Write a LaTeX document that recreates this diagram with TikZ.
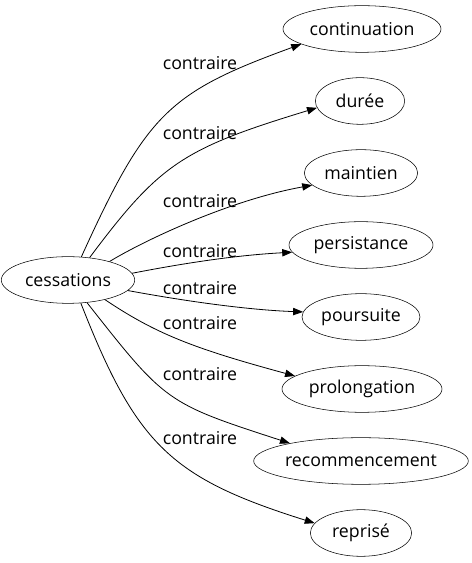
\documentclass[tikz,border=0pt]{standalone}
\usepackage{fontspec}
\setmainfont{Open Sans}
\usetikzlibrary{shapes.geometric,arrows.meta}
\begin{document}
\begin{tikzpicture}[x=0.75pt,y=0.75pt,
  nd/.style={draw,ellipse,inner sep=0pt,minimum height=35pt,font=\fontsize{13.3}{15}\selectfont},
  lbl/.style={font=\fontsize{13.3}{15}\selectfont,inner sep=0pt},
  edge/.style={-{Triangle[length=7.5pt,width=5.5pt]},line width=0.6pt}]
\useasboundingbox (0,0) rectangle (471,563);
\node[nd,minimum width=100pt] (c) at (68,283) {cessations};
\node[nd,minimum width=118.5pt] (t1) at (362,534) {continuation};
\node[nd,minimum width=67pt] (t2) at (360,462) {durée};
\node[nd,minimum width=85pt] (t3) at (361,390) {maintien};
\node[nd,minimum width=108pt] (t4) at (361,318) {persistance};
\node[nd,minimum width=88.5pt] (t5) at (361,246) {poursuite};
\node[nd,minimum width=120pt] (t6) at (362,174) {prolongation};
\node[nd,minimum width=160pt] (t7) at (361,102) {recommencement};
\node[nd,minimum width=76pt] (t8) at (361,30) {reprisé};
\draw[edge] (c.60) .. controls (146.5,449.3) and (168.3,470.5) .. (t1.194);
\draw[edge] (c.46) .. controls (160,399.4) and (182.6,414.3) .. (t2.189);
\draw[edge] (c.24) .. controls (145,323) and (230,363) .. (t3.194);
\draw[edge] (c.6) .. controls (190,301) and (240,308) .. (t4.186);
\draw[edge] (c.-10) .. controls (190,261) and (250,253) .. (t5.175);
\draw[edge] (c.-28) .. controls (155.6,229.4) and (192.6,214.8) .. (t6.169);
\draw[edge] (c.-50) .. controls (166,160) and (166,160) .. (t7.166);
\draw[edge] (c.-61) .. controls (136.6,117.6) and (171.1,85) .. (t8.168);
\node[lbl] (l1) at (200,500) {contraire};
\node[lbl] (l2) at (200,430) {contraire};
\node[lbl] (l3) at (200,362) {contraire};
\node[lbl] (l4) at (200,312) {contraire};
\node[lbl] (l5) at (200,275) {contraire};
\node[lbl] (l6) at (200,240) {contraire};
\node[lbl] (l7) at (200,189) {contraire};
\node[lbl] (l8) at (200,125) {contraire};
\end{tikzpicture}
\end{document}
